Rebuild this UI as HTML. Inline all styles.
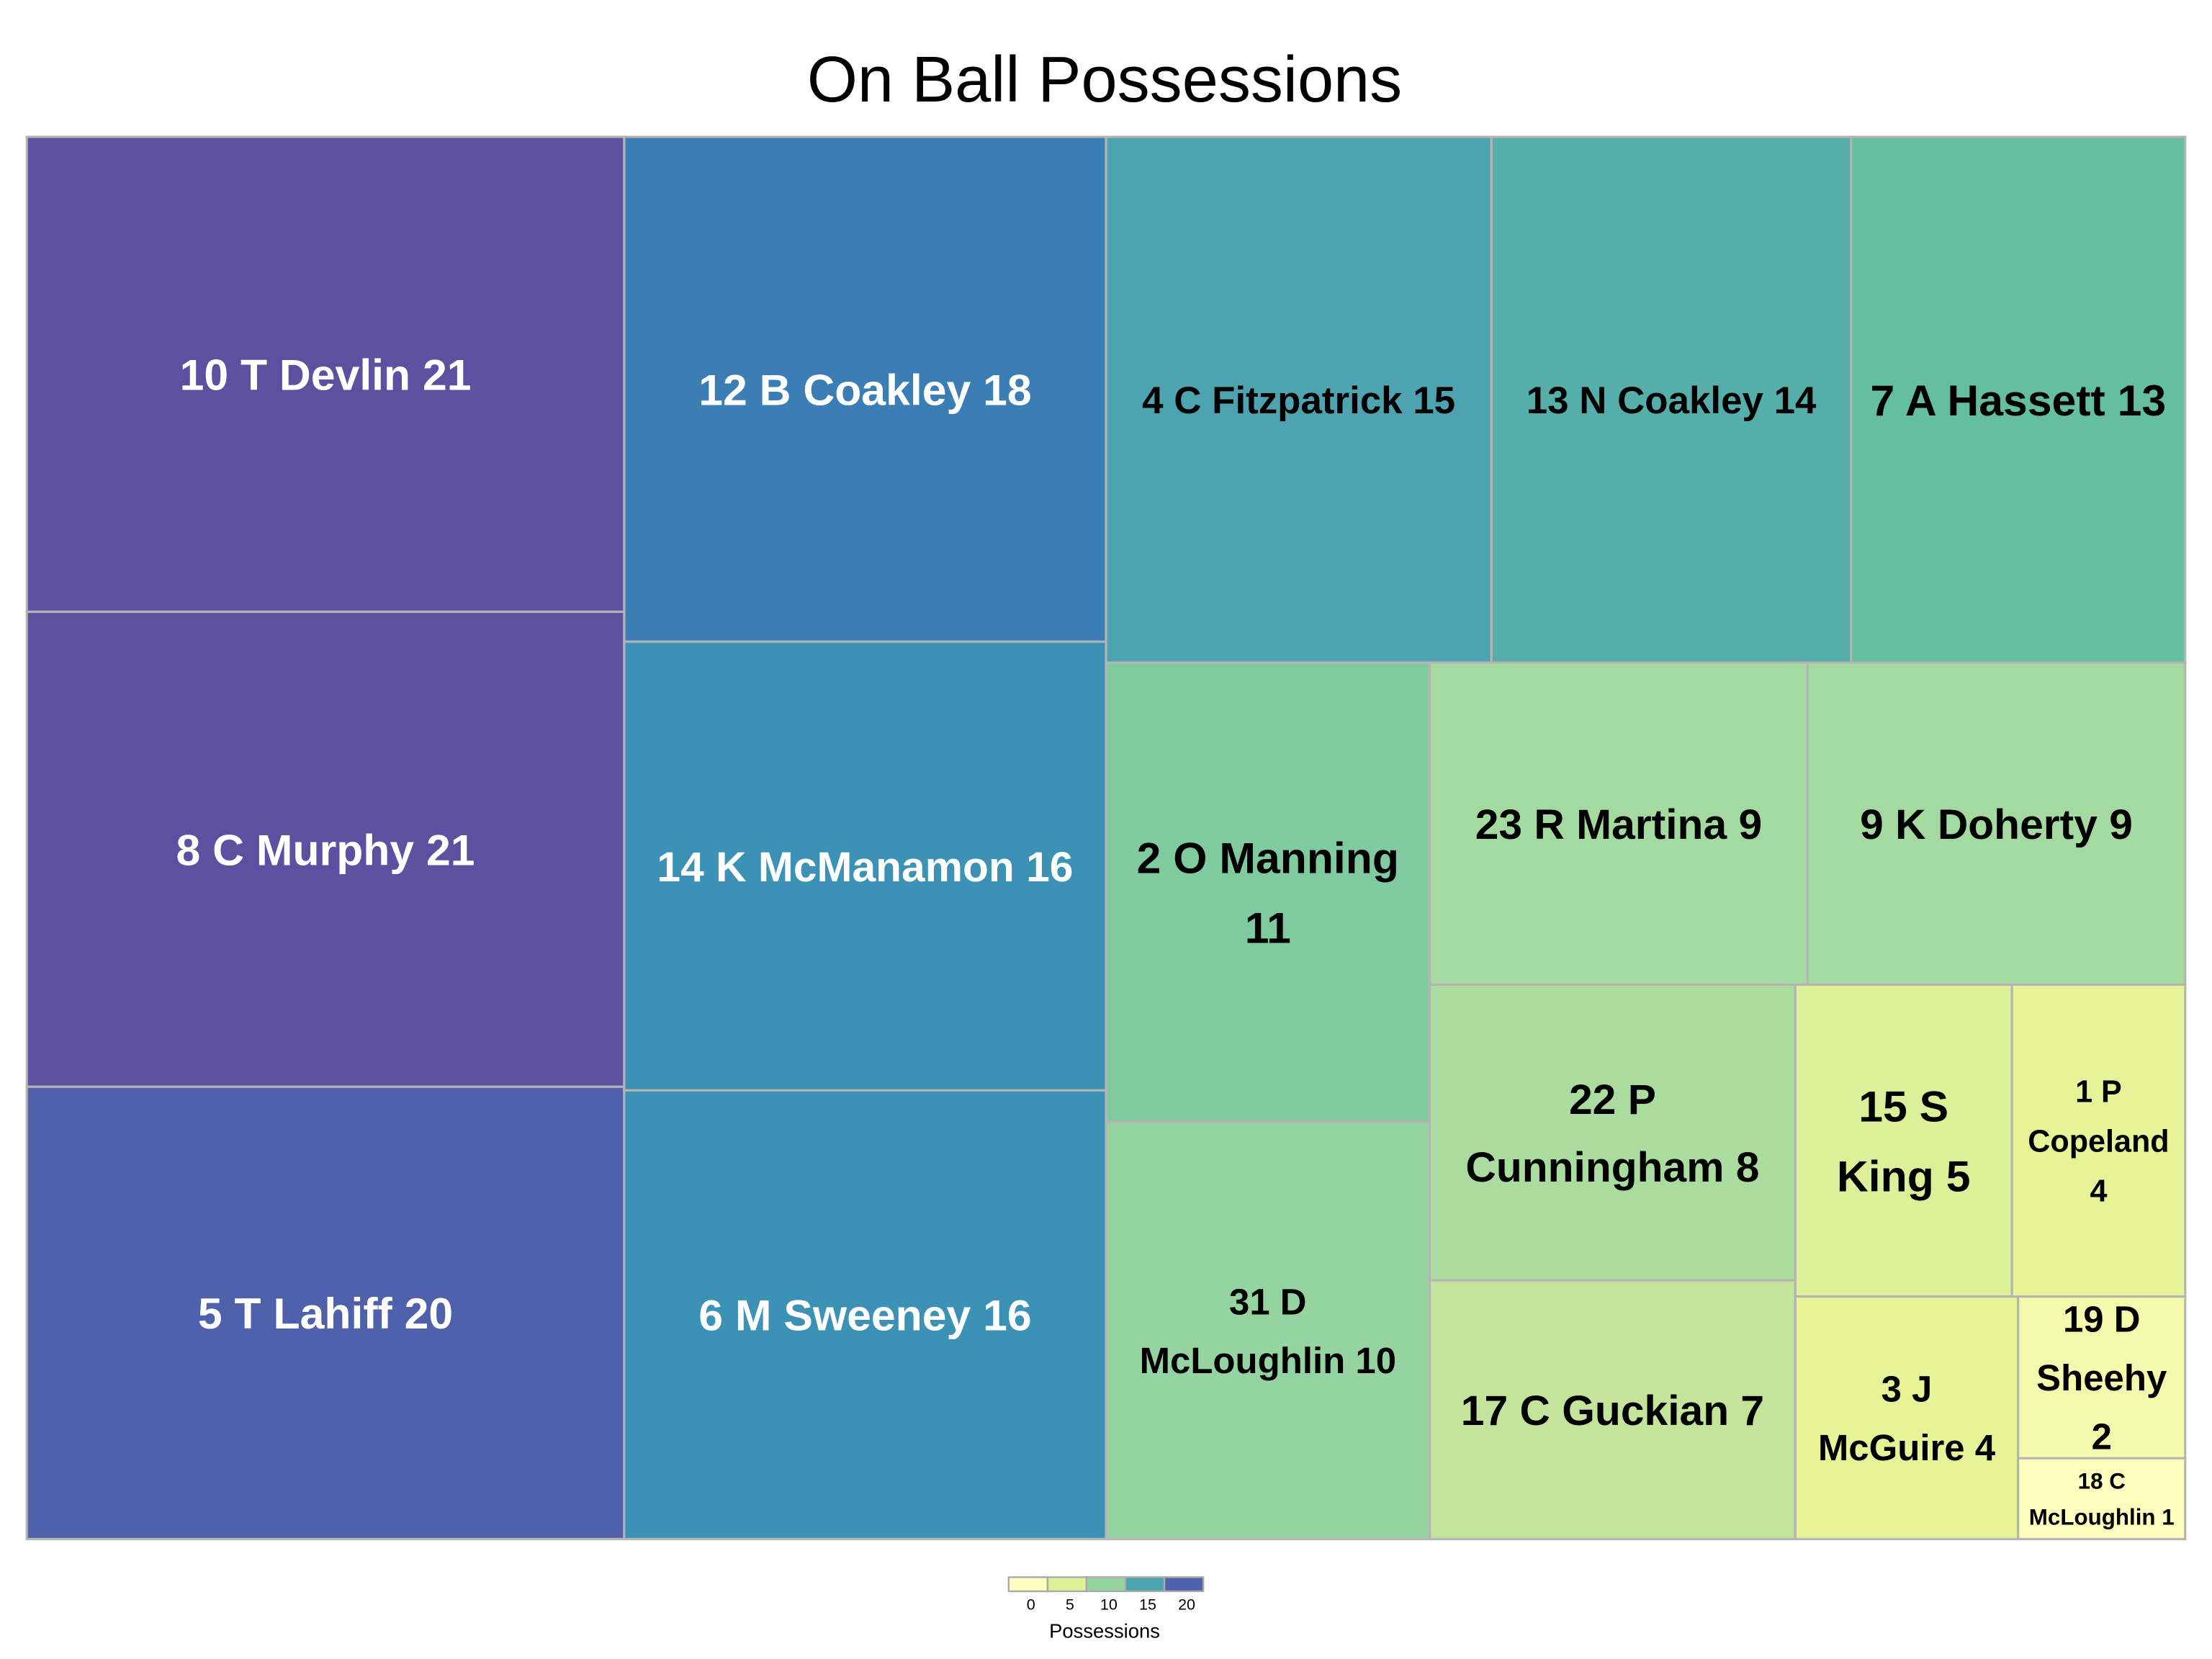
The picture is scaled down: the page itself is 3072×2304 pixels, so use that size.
<!DOCTYPE html>
<html><head><meta charset="utf-8"><style>
html,body{margin:0;padding:0;background:#fff}
svg{display:block}
text{font-family:"Liberation Sans",Arial,sans-serif}
</style></head><body>
<svg id="chart" width="3072" height="2304" viewBox="0 0 1568 1176" xmlns="http://www.w3.org/2000/svg">
<rect x="0" y="0" width="1568" height="1176" fill="#fff"/>
<text x="783" y="72" text-anchor="middle" font-size="46" fill="#000">On Ball Possessions</text>
<g id="cells"></g>
<g id="legend"></g>
</svg>
<script>
// ---- data ----
const players = ["10 T Devlin 21","8 C Murphy 21","5 T Lahiff 20","12 B Coakley 18","14 K McManamon 16","6 M Sweeney 16","4 C Fitzpatrick 15","13 N Coakley 14","7 A Hassett 13","2 O Manning|11","31 D|McLoughlin 10","23 R Martina 9","9 K Doherty 9","22 P|Cunningham 8","17 C Guckian 7","15 S|King 5","1 P|Copeland|4","3 J|McGuire 4","19 D|Sheehy|2","18 C|McLoughlin 1"];
const possessions = [21,21,20,18,16,16,15,14,13,11,10,9,9,8,7,5,4,4,2,1];
const legendTicks = [0,5,10,15,20];
const legendTitle = "Possessions";

// ---- style ----
const fontSizes = [31,31,31,31,30,31,27,27,31,31,26,30,30,30,30,31,22,26,26,16];
const colorStops = [[1,"#fdfebe"],[2,"#f4f9ad"],[4,"#e6f497"],[5,"#deef99"],[7,"#c4e39b"],[8,"#aadca0"],[9,"#a4d9a0"],[10,"#95d3a0"],[11,"#80caa0"],[13,"#63bfa0"],[14,"#56aeaa"],[15,"#4da3b0"],[16,"#3b92b5"],[18,"#3b7db5"],[20,"#5061ab"],[21,"#5e50a1"]];
function hex2rgb(h){return [1,3,5].map(i=>parseInt(h.substr(i,2),16));}
function colorFor(v){
  if(v<=colorStops[0][0])return colorStops[0][1];
  for(let i=1;i<colorStops.length;i++){
    const [v1,c1]=colorStops[i];
    if(v<=v1){const [v0,c0]=colorStops[i-1];const t=(v-v0)/(v1-v0);
      const a=hex2rgb(c0),b=hex2rgb(c1);
      return "rgb("+a.map((x,k)=>Math.round(x+(b[k]-x)*t)).join(",")+")";}
  }
  return colorStops[colorStops.length-1][1];
}
// tree structure (indices into data arrays)
const tree={d:'h',k:[
  {d:'v',k:[0,1,2]},
  {d:'v',k:[3,4,5]},
  {d:'v',k:[
    {d:'h',k:[6,7,8]},
    {d:'h',k:[
      {d:'v',k:[9,10]},
      {d:'v',k:[
        {d:'h',k:[11,12]},
        {d:'h',k:[
          {d:'v',k:[13,14]},
          {d:'v',k:[
            {d:'h',k:[15,16]},
            {d:'h',k:[17,{d:'v',k:[18,19]}]}
          ]}
        ]}
      ]}
    ]}
  ]}
]};
function total(n){return typeof n==='number'?possessions[n]:n.k.reduce((s,c)=>s+total(c),0);}
const NS="http://www.w3.org/2000/svg";
const cells=document.getElementById('cells');
function layout(n,x,y,w,h){
  if(typeof n==='number'){drawCell(n,x,y,w,h);return;}
  const T=total(n);let off=0;
  n.k.forEach(c=>{const f=total(c)/T;
    if(n.d==='h'){layout(c,x+off*w,y,f*w,h);}else{layout(c,x,y+off*h,w,f*h);}
    off+=f;});
}
function drawCell(i,x,y,w,h){
  const g=document.createElementNS(NS,'g');
  
  
  const r=document.createElementNS(NS,'rect');
  r.setAttribute('x',x);r.setAttribute('y',y);r.setAttribute('width',w);r.setAttribute('height',h);
  r.setAttribute('fill',colorFor(possessions[i]));r.setAttribute('stroke','#b4b4b4');r.setAttribute('stroke-width','1.6');
  
  
  g.appendChild(r);
  const lines=players[i].split('|');const fs=fontSizes[i];const lh=fs*1.6;
  const t=document.createElementNS(NS,'text');
  t.setAttribute('text-anchor','middle');t.setAttribute('font-weight','bold');t.setAttribute('font-size',fs);
  t.setAttribute('fill',possessions[i]>=16?'#fff':'#000');
  
  
  const cy=y+h/2, start=cy-(lines.length-1)*lh/2+fs*0.36;
  lines.forEach((ln,j)=>{const s=document.createElementNS(NS,'tspan');
    s.setAttribute('x',x+w/2);s.setAttribute('y',start+j*lh);s.textContent=ln;t.appendChild(s);});
  g.appendChild(t);cells.appendChild(g);
}
layout(tree,19,97,1530,994);
// legend
const lg=document.getElementById('legend');
const lx=715,lw=27.6,ly=1118,lhgt=10;
legendTicks.forEach((v,i)=>{
  const r=document.createElementNS(NS,'rect');
  r.setAttribute('x',lx+i*lw);r.setAttribute('y',ly);r.setAttribute('width',lw);r.setAttribute('height',lhgt);
  r.setAttribute('fill',colorFor(v===0?1:v));r.setAttribute('stroke','#aaa');r.setAttribute('stroke-width','1.2');
  
  
  lg.appendChild(r);
  const t=document.createElementNS(NS,'text');
  t.setAttribute('x',lx+i*lw+lw/2+2);t.setAttribute('y',ly+23);t.setAttribute('text-anchor','middle');t.setAttribute('font-size','11');
  t.textContent=v;
  
  
  lg.appendChild(t);
});
const lt=document.createElementNS(NS,'text');
lt.setAttribute('x',783);lt.setAttribute('y',1161);lt.setAttribute('text-anchor','middle');lt.setAttribute('font-size','14');
lt.textContent=legendTitle;


lg.appendChild(lt);
</script>
</body></html>
